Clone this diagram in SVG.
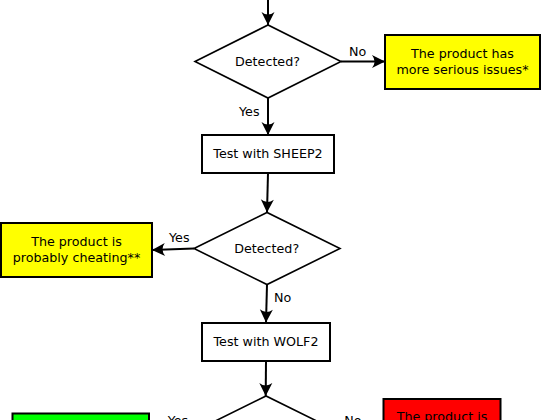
<svg xmlns="http://www.w3.org/2000/svg" width="541" height="420" viewBox="0 0 541 420">
<defs>
<marker id="arr" markerUnits="userSpaceOnUse" markerWidth="16" markerHeight="16" viewBox="-14 -8 16 16" refX="0" refY="0" orient="auto">
<path d="M0,0 L-13,-6.5 Q-8,0 -13,6.5 Z" fill="#000"/>
</marker>
</defs>
<style>
.box{stroke:#000;stroke-width:2}
.dia{fill:#fff;stroke:#000;stroke-width:1.6}
.con{stroke:#000;stroke-width:2;fill:none;marker-end:url(#arr)}
text{font-family:"DejaVu Sans",sans-serif;font-size:12.7px;fill:#000;text-anchor:middle}
.lbl{font-size:12.7px}
</style>
<rect width="541" height="420" fill="#fff"/>
<g id="connectors">
<line class="con" x1="268" y1="0" x2="268" y2="25"/>
<line class="con" x1="341" y1="61.5" x2="385" y2="61.5"/>
<line class="con" x1="268" y1="98" x2="268" y2="135"/>
<line class="con" x1="268" y1="173" x2="267" y2="212.5"/>
<line class="con" x1="194" y1="248.5" x2="152" y2="250"/>
<line class="con" x1="267" y1="284.5" x2="266" y2="322.5"/>
<line class="con" x1="266" y1="361.5" x2="265.7" y2="396"/>
<line class="con" x1="193" y1="432" x2="149" y2="432"/>
<line class="con" x1="339" y1="432" x2="383" y2="432"/>
<text x="357.7" y="56">No</text>
<text x="249.3" y="115.7">Yes</text>
<text x="179.3" y="242">Yes</text>
<text x="282.7" y="301.7">No</text>
<text x="178" y="425">Yes</text>
<text x="353" y="425">No</text>
</g>
<g id="detected1">
<polygon class="dia" points="195,61.5 268,25 341,61.5 268,98"/>
<text x="267.5" y="65.7">Detected?</text>
</g>
<g id="serious">
<rect class="box" x="385" y="35" width="155" height="54" fill="#ffff00"/>
<text x="462.5" y="57.5">The product has</text>
<text x="462.5" y="74">more serious issues*</text>
</g>
<g id="sheep2">
<rect class="box" x="202" y="135" width="132" height="38" fill="#fff"/>
<text x="268" y="158.3">Test with SHEEP2</text>
</g>
<g id="detected2">
<polygon class="dia" points="194,248.5 267,212.5 340,248.5 267,284.5"/>
<text x="266.7" y="252.7">Detected?</text>
</g>
<g id="cheating">
<rect class="box" x="1" y="223" width="151" height="54" fill="#ffff00"/>
<text x="76.5" y="245.7">The product is</text>
<text x="76.5" y="261.7">probably cheating**</text>
</g>
<g id="wolf2">
<rect class="box" x="202" y="323" width="128" height="38" fill="#fff"/>
<text x="266" y="346">Test with WOLF2</text>
</g>
<g id="detected3">
<polygon class="dia" points="193,432 266,396 339,432 266,468"/>
</g>
<g id="green">
<rect class="box" x="12.5" y="413.5" width="136.5" height="38" fill="#00ff00"/>
</g>
<g id="red">
<rect class="box" x="383.5" y="399" width="117" height="66" fill="#ff0000"/>
<text x="442" y="421">The product is</text>
</g>
</svg>
